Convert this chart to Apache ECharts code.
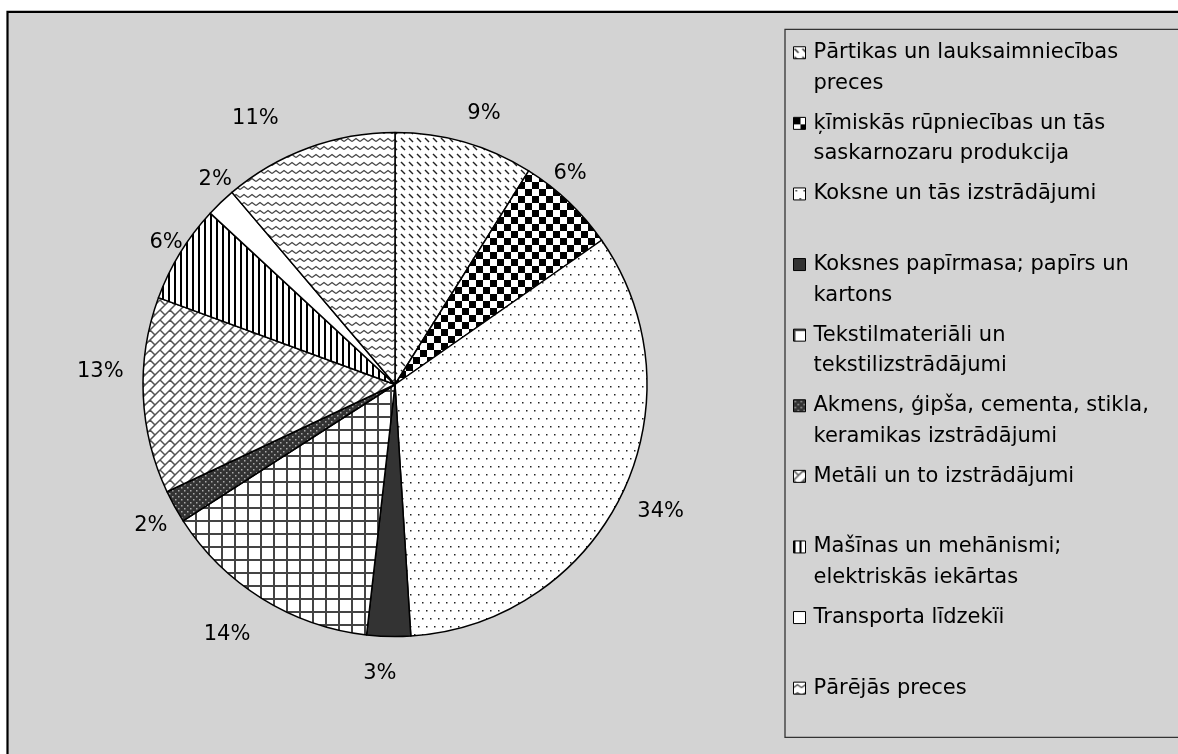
<!DOCTYPE html>
<html>
<head>
<meta charset="utf-8">
<script src="https://cdn.jsdelivr.net/npm/echarts@6.0.0/dist/echarts.min.js"></script>
<style>
  html, body { margin: 0; padding: 0; background: #fff; }
  #chart { width: 1178px; height: 754px; }
</style>
</head>
<body>
<div id="chart"></div>
<script>
  // kategorijas (leģendas teksti, pārnesumi kā oriģinālā)
  const categories = [
    'Pārtikas un lauksaimniecības\npreces',
    'ķīmiskās rūpniecības un tās\nsaskarnozaru produkcija',
    'Koksne un tās izstrādājumi',
    'Koksnes papīrmasa; papīrs un\nkartons',
    'Tekstilmateriāli un\ntekstilizstrādājumi',
    'Akmens, ģipša, cementa, stikla,\nkeramikas izstrādājumi',
    'Metāli un to izstrādājumi',
    'Mašīnas un mehānismi;\nelektriskās iekārtas',
    'Transporta līdzekïi',
    'Pārējās preces'
  ];
  // daļas, % (nolasītas no sektoru leņķiem)
  const shares = [8.9, 6.4, 33.7, 2.8, 14.1, 2.1, 12.6, 6.3, 1.9, 11.2];

  // uzrakstu nobīdes no sektora viduslīnijas (Excel tos liek nedaudz citur)
  const labelNudge = [
    [10, 4], [-22, -4], [8, 3], [-8, 3], [-17, 7],
    [6, 2], [-9, -26], [15, 7], [18, 2], [-41, 3]
  ];

  const fontFamily = "'DejaVu Sans', 'Liberation Sans', Arial, sans-serif";

  function makeTile(w, h, draw, bg) {
    const c = document.createElement('canvas');
    c.width = w;
    c.height = h;
    const g = c.getContext('2d');
    g.fillStyle = bg || '#fff';
    g.fillRect(0, 0, w, h);
    draw(g, w, h);
    return { image: c, repeat: 'repeat' };
  }

  // Excel stila raksti katram sektoram
  const fills = [
    // īsas diagonālas svītriņas
    makeTile(8, 8, function (g) {
      g.strokeStyle = '#222';
      g.lineWidth = 1.5;
      g.beginPath();
      g.moveTo(1, 2);
      g.lineTo(5, 6);
      g.stroke();
    }),
    // šahs
    makeTile(14, 14, function (g) {
      g.fillStyle = '#000';
      g.fillRect(0, 0, 7, 7);
      g.fillRect(7, 7, 7, 7);
    }),
    // punkti
    makeTile(8, 16, function (g) {
      g.fillStyle = '#222';
      g.fillRect(2, 2, 1.5, 1.5);
      g.fillRect(6, 10, 1.5, 1.5);
    }),
    '#333',
    // režģis
    makeTile(13, 13, function (g) {
      g.fillStyle = '#444';
      g.fillRect(0, 0, 13, 2);
      g.fillRect(0, 0, 2, 13);
    }),
    // tumšs ar gaišiem punktiem
    makeTile(6, 6, function (g) {
      g.fillStyle = '#aaa';
      g.fillRect(1, 1, 1.5, 1.5);
      g.fillRect(4, 4, 1.5, 1.5);
    }, '#333'),
    // diagonāli ķieģeļi
    makeTile(20, 20, function (g) {
      const s = 10, P = 20;
      g.strokeStyle = '#555';
      g.lineWidth = 1.5;
      g.beginPath();
      for (let k = -6; k <= 8; k++) {
        const u = k * s;
        g.moveTo(-40, u + 40);
        g.lineTo(60, u - 60);
        for (let m = -4; m <= 4; m++) {
          const v = m * P + (((k % 2) + 2) % 2) * P / 2;
          g.moveTo((u + v) / 2, (u - v) / 2);
          g.lineTo((u + s + v) / 2, (u + s - v) / 2);
        }
      }
      g.stroke();
    }),
    // vertikālas līnijas
    makeTile(6, 4, function (g) {
      g.fillStyle = '#000';
      g.fillRect(0, 0, 2, 4);
    }),
    '#fff',
    // viļņi
    makeTile(8, 8, function (g) {
      g.strokeStyle = '#444';
      g.lineWidth = 1.3;
      g.beginPath();
      for (let i = -1; i <= 1; i++) {
        g.moveTo(i * 8, 5.5);
        g.lineTo(i * 8 + 4, 2.5);
        g.lineTo(i * 8 + 8, 5.5);
      }
      g.stroke();
    })
  ];

  const chart = echarts.init(document.getElementById('chart'));
  chart.setOption({
    backgroundColor: '#fff',
    animation: false,
    graphic: [
      {
        type: 'rect', z: -10, silent: true,
        shape: { x: 7.5, y: 11.8, width: 1300, height: 900 },
        style: { fill: '#d3d3d3', stroke: '#000', lineWidth: 2.2 }
      },
      {
        type: 'rect', z: -9, silent: true,
        shape: { x: 785, y: 29.3, width: 500, height: 708 },
        style: { fill: 'none', stroke: '#333', lineWidth: 1.3 }
      }
    ],
    legend: {
      orient: 'vertical',
      left: 793,
      top: 7,
      padding: 0,
      itemWidth: 12,
      itemHeight: 12,
      itemGap: -20.9,
      icon: 'rect',
      selectedMode: false,
      itemStyle: { borderColor: '#000', borderWidth: 1 },
      textStyle: {
        fontFamily: fontFamily,
        fontSize: 21,
        color: '#000',
        lineHeight: 30.5,
        padding: [0, 0, 0, 3]
      },
      formatter: function (name) {
        return name.indexOf('\n') < 0 ? '\n' + name + '\n' : '\n' + name;
      },
      data: categories
    },
    series: [
      {
        type: 'pie',
        center: [395, 384.5],
        radius: 252,
        startAngle: 90,
        clockwise: true,
        silent: true,
        label: { show: false },
        labelLine: { show: false },
        itemStyle: { borderColor: '#000', borderWidth: 1.5 },
        data: categories.map(function (n, i) {
          return { name: n, value: shares[i], itemStyle: { color: fills[i] } };
        })
      },
      {
        // neredzams gredzens procentu uzrakstiem
        type: 'pie',
        center: [395, 384.5],
        radius: [252, 314],
        startAngle: 90,
        clockwise: true,
        silent: true,
        itemStyle: { color: 'rgba(0,0,0,0)', borderWidth: 0 },
        labelLine: { show: false },
        label: {
          position: 'inside',
          fontFamily: fontFamily,
          fontSize: 21,
          color: '#000',
          formatter: function (p) {
            return Math.round(p.percent) + '%';
          }
        },
        data: categories.map(function (n, i) {
          return { name: n, value: shares[i], label: { offset: labelNudge[i] } };
        })
      }
    ]
  });
</script>
</body>
</html>
